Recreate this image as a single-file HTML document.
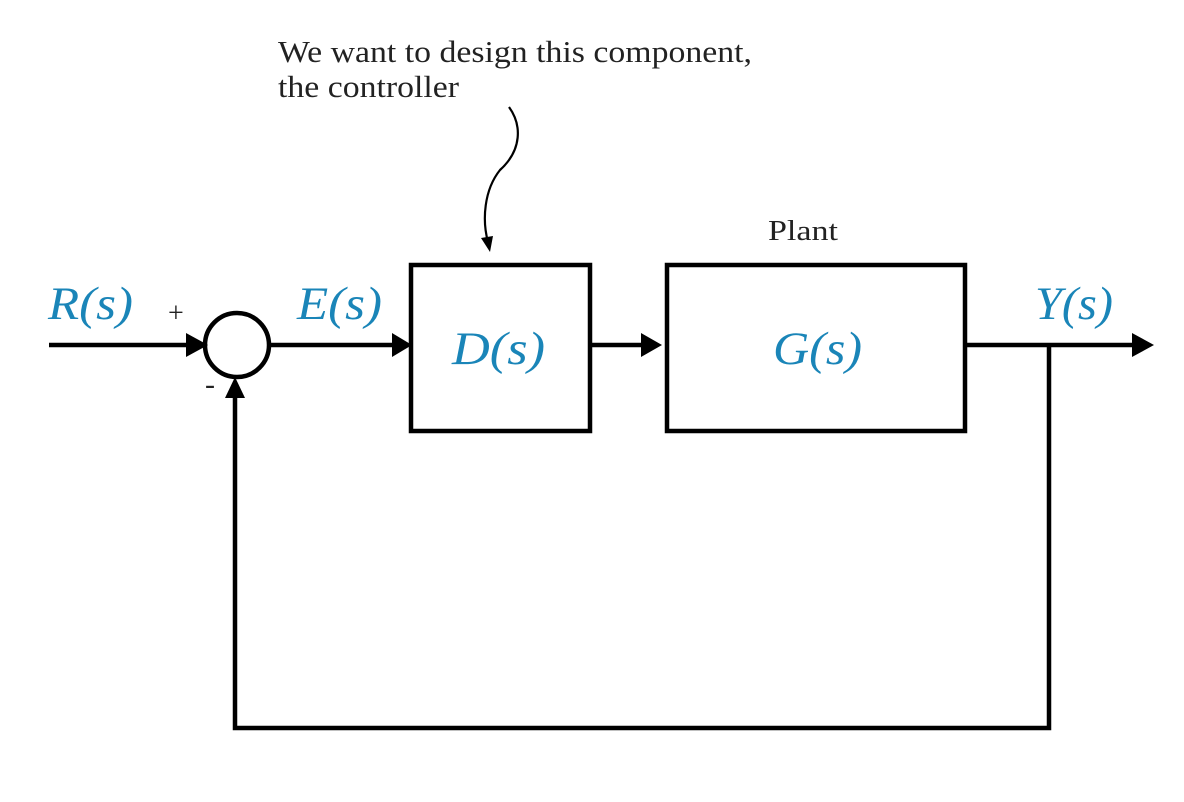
<!DOCTYPE html>
<html><head><meta charset="utf-8"><style>
html,body{margin:0;padding:0;background:#fff;}
svg{display:block;}
.b{font-family:"Liberation Serif",serif;font-style:italic;fill:#1a85b8;}
.t{font-family:"Liberation Serif",serif;fill:#222;}
</style></head><body>
<svg width="1184" height="802" viewBox="0 0 1184 802">
<g stroke="#000" stroke-width="4.5" fill="none">
<line x1="49" y1="345" x2="186" y2="345"/>
<circle cx="237" cy="345" r="32"/>
<line x1="270" y1="345" x2="392" y2="345"/>
<rect x="411" y="265" width="179" height="166"/>
<line x1="590" y1="345" x2="642" y2="345"/>
<rect x="667" y="265" width="298" height="166"/>
<line x1="965" y1="345" x2="1132" y2="345"/>
<polyline points="1049,345 1049,728 235,728 235,397"/>
</g>
<g fill="#000">
<polygon points="186,333 208,345 186,357"/>
<polygon points="392,333 412,345 392,357"/>
<polygon points="641,333 662,345 641,357"/>
<polygon points="1132,333 1154,345 1132,357"/>
<polygon points="225,398 235,377 245,398"/>
</g>
<path d="M509,107 C522,125 522,150 500,170 C484,190 482,220 488,242" stroke="#000" stroke-width="2.2" fill="none"/>
<polygon points="481,238 490,252 493,236" fill="#000"/>
<text class="b" x="48" y="319" font-size="47" textLength="85" lengthAdjust="spacingAndGlyphs">R(s)</text>
<text class="b" x="297" y="319" font-size="47" textLength="85" lengthAdjust="spacingAndGlyphs">E(s)</text>
<text class="b" x="1035" y="319" font-size="47" textLength="78" lengthAdjust="spacingAndGlyphs">Y(s)</text>
<text class="b" x="452" y="364" font-size="47" textLength="93" lengthAdjust="spacingAndGlyphs">D(s)</text>
<text class="b" x="773" y="364" font-size="47" textLength="89" lengthAdjust="spacingAndGlyphs">G(s)</text>
<text class="t" x="168" y="322" font-size="28">+</text>
<text class="t" x="205" y="394" font-size="30">-</text>
<text class="t" x="768" y="240" font-size="28" textLength="70" lengthAdjust="spacingAndGlyphs">Plant</text>
<text class="t" x="278" y="62" font-size="31" textLength="474" lengthAdjust="spacingAndGlyphs">We want to design this component,</text>
<text class="t" x="278" y="97" font-size="31" textLength="181" lengthAdjust="spacingAndGlyphs">the controller</text>
</svg>
</body></html>
